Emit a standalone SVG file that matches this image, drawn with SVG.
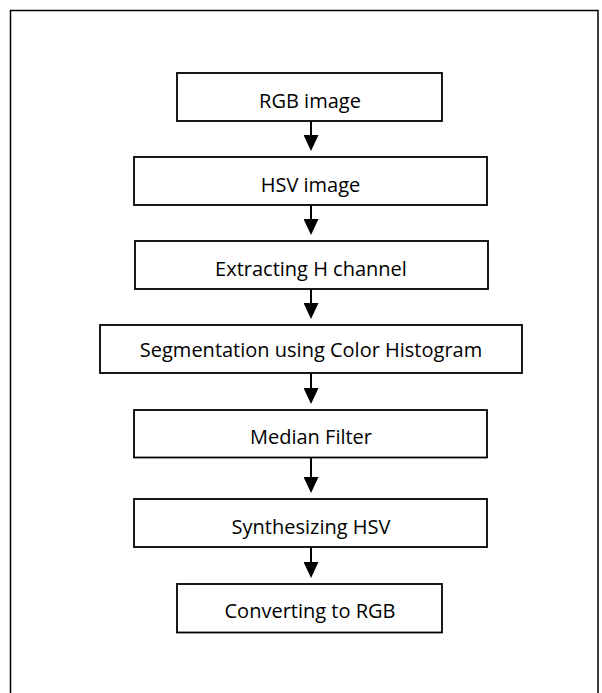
<svg xmlns="http://www.w3.org/2000/svg" width="602" height="693" viewBox="0 0 602 693">
  <style>
    .frame { fill: none; stroke: #000; stroke-width: 1.5; }
    .box { fill: #fff; stroke: #000; stroke-width: 1.8; }
    .label { font-family: "Open Sans", "Noto Sans", "Liberation Sans", sans-serif; font-size: 20px; fill: #000; text-anchor: middle; }
    .link { stroke: #000; stroke-width: 2; fill: none; marker-end: url(#head); }
  </style>
  <defs>
    <marker id="head" viewBox="0 0 16 15" refX="12" refY="7.5" markerWidth="16" markerHeight="15" markerUnits="userSpaceOnUse" orient="auto">
      <path d="M0,0 L16,7.5 L0,15 z" fill="#000"/>
    </marker>
  </defs>

  <rect width="602" height="693" fill="#fff"/>
  <!-- outer frame, open at the bottom edge of the page -->
  <rect class="frame" x="10.5" y="10.5" width="587.5" height="700"/>

  <g id="connectors">
    <line class="link" x1="311" y1="121" x2="311" y2="147"/>
    <line class="link" x1="311" y1="205" x2="311" y2="231"/>
    <line class="link" x1="311" y1="289" x2="311" y2="315"/>
    <line class="link" x1="311" y1="373" x2="311" y2="400"/>
    <line class="link" x1="311" y1="457.5" x2="311" y2="489"/>
    <line class="link" x1="311" y1="547" x2="311" y2="574"/>
  </g>

  <g id="rgb-image">
    <rect class="box" x="177" y="73" width="265" height="48"/>
    <text class="label" x="310" y="107.5">RGB image</text>
  </g>

  <g id="hsv-image">
    <rect class="box" x="134" y="157" width="353" height="48"/>
    <text class="label" x="310.5" y="191.5">HSV image</text>
  </g>

  <g id="extract-h">
    <rect class="box" x="135" y="241" width="353" height="48"/>
    <text class="label" x="311" y="275.5">Extracting H channel</text>
  </g>

  <g id="segmentation">
    <rect class="box" x="100" y="325" width="422" height="48"/>
    <text class="label" x="311" y="357">Segmentation using Color Histogram</text>
  </g>

  <g id="median-filter">
    <rect class="box" x="134" y="410" width="353" height="47.5"/>
    <text class="label" x="311" y="443.5">Median Filter</text>
  </g>

  <g id="synthesize-hsv">
    <rect class="box" x="134" y="499" width="353" height="48"/>
    <text class="label" x="311" y="533.5">Synthesizing HSV</text>
  </g>

  <g id="to-rgb">
    <rect class="box" x="177" y="584" width="265" height="48.5"/>
    <text class="label" x="310" y="618">Converting to RGB</text>
  </g>
</svg>
